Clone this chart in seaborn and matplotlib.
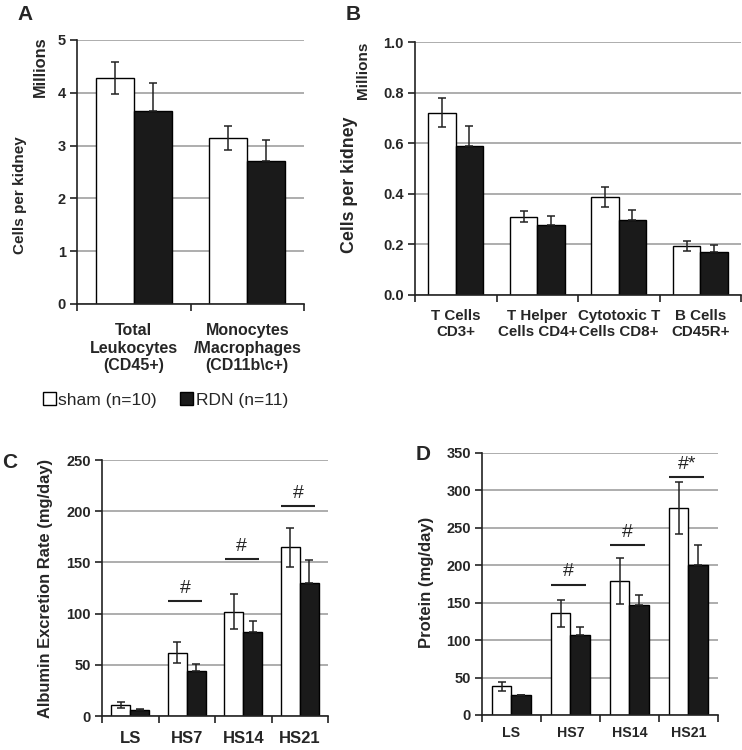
import numpy as np
import pandas as pd
import matplotlib
matplotlib.use('Agg')
import matplotlib.pyplot as plt
from matplotlib.patches import Patch
import seaborn as sns

# panel A
a_cats = ['Total\nLeukocytes\n(CD45+)', 'Monocytes\n/Macrophages\n(CD11b\\c+)']
a_sham = [4.28, 3.14]
a_sham_err = [0.30, 0.23]
a_rdn = [3.65, 2.70]
a_rdn_err = [0.53, 0.40]

# panel B
b_cats = ['T Cells\nCD3+', 'T Helper\nCells CD4+', 'Cytotoxic T\nCells CD8+', 'B Cells\nCD45R+']
b_sham = [0.72, 0.31, 0.387, 0.195]
b_sham_err = [0.057, 0.022, 0.04, 0.02]
b_rdn = [0.587, 0.275, 0.295, 0.17]
b_rdn_err = [0.08, 0.036, 0.042, 0.029]

# panel C
c_cats = ['LS', 'HS7', 'HS14', 'HS21']
c_sham = [11, 62, 102, 165]
c_sham_err = [3, 10, 17, 19]
c_rdn = [6, 44, 82, 130]
c_rdn_err = [1, 7, 11, 22]
c_sig_y = [112, 153, 205]
c_sig_txt = ['#', '#', '#']

# panel D
d_cats = ['LS', 'HS7', 'HS14', 'HS21']
d_sham = [38, 136, 179, 276]
d_sham_err = [6, 18, 31, 35]
d_rdn = [26, 107, 147, 200]
d_rdn_err = [1, 10, 13, 27]
d_sig_y = [174, 227, 318]
d_sig_txt = ['#', '#', '#*']

groups = ['sham', 'RDN']
pal = {'sham': 'white', 'RDN': '#1a1a1a'}

sns.set_style('white')
plt.rcParams['font.family'] = ['Liberation Sans', 'DejaVu Sans']
plt.rcParams['font.weight'] = 'bold'

fig = plt.figure(figsize=(7.42, 7.5), dpi=100)


def panel(rect, cats, sham, sham_err, rdn, rdn_err, ymax, ystep, fmt, xpad, xfs):
    ax = fig.add_axes(rect)
    df = pd.DataFrame({
        'cat': cats * 2,
        'grp': ['sham'] * len(cats) + ['RDN'] * len(cats),
        'val': list(sham) + list(rdn),
    })
    sns.barplot(data=df, x='cat', y='val', hue='grp', hue_order=groups,
                palette=pal, edgecolor='black', linewidth=1.0, width=0.67,
                errorbar=None, legend=False, ax=ax)
    # white bars: both directions visible; black bars: only the upper half shows
    for cont, errs, g in zip(ax.containers, [sham_err, rdn_err], groups):
        xs = [p.get_x() + p.get_width() / 2 for p in cont.patches]
        hs = [p.get_height() for p in cont.patches]
        if g == 'sham':
            yerr = errs
        else:
            yerr = [[0] * len(errs), errs]
        ax.errorbar(xs, hs, yerr=yerr, fmt='none', ecolor='#222222',
                    elinewidth=1.1, capsize=2.8, capthick=1.1, zorder=5)
    n = len(cats)
    ax.set_xlim(-0.5, n - 0.5)
    ax.set_ylim(0, ymax)
    ticks = np.arange(0, ymax + ystep / 2, ystep)
    ax.set_yticks(ticks)
    ax.set_yticklabels([fmt.format(v) for v in ticks], fontsize=10.5, fontweight='bold')
    ax.set_xticks(np.arange(n + 1) - 0.5, minor=True)
    ax.tick_params(axis='x', which='major', length=0, pad=xpad, labelsize=xfs)
    ax.tick_params(axis='x', which='minor', length=5, width=1.2, color='#222222',
                   direction='out', bottom=True)
    ax.tick_params(axis='y', length=5, width=1.2, color='#222222', direction='out',
                   left=True, pad=3)
    for lab in ax.get_xticklabels():
        lab.set_fontweight('bold')
    ax.yaxis.grid(True, color='#a0a0a0', lw=1.2)
    ax.xaxis.grid(False)
    ax.set_axisbelow(True)
    for s in ['top', 'right']:
        ax.spines[s].set_visible(False)
    for s in ['left', 'bottom']:
        ax.spines[s].set_color('#222222')
        ax.spines[s].set_linewidth(1.2)
    ax.set_xlabel('')
    ax.set_ylabel('')
    return ax


def sig(ax, ys, txts):
    for i, (y, t) in enumerate(zip(ys, txts)):
        c = i + 1
        ax.plot([c - 0.33, c + 0.27], [y, y], color='#222222', lw=1.5,
                solid_capstyle='butt', zorder=6)
        ax.annotate(t, (c - 0.03, y), xytext=(0, 3), textcoords='offset points',
                    ha='center', va='bottom', fontsize=14, fontweight='normal')


axA = panel([0.1038, 0.5947, 0.306, 0.352], a_cats, a_sham, a_sham_err,
            a_rdn, a_rdn_err, 5, 1, '{:.0f}', 14, 11.5)
axB = panel([0.5593, 0.6067, 0.4394, 0.3373], b_cats, b_sham, b_sham_err,
            b_rdn, b_rdn_err, 1.0, 0.2, '{:.1f}', 10, 10.9)
axC = panel([0.1375, 0.0453, 0.3046, 0.3413], c_cats, c_sham, c_sham_err,
            c_rdn, c_rdn_err, 250, 50, '{:.0f}', 11, 12)
axD = panel([0.6496, 0.0467, 0.318, 0.3497], d_cats, d_sham, d_sham_err,
            d_rdn, d_rdn_err, 350, 50, '{:.0f}', 8, 10.2)
sig(axC, c_sig_y, c_sig_txt)
sig(axD, d_sig_y, d_sig_txt)

# axis labels
fig.text(20 / 742, 1 - 195 / 750, 'Cells per kidney', rotation=90, ha='center',
         va='center', fontsize=11, fontweight='bold')
fig.text(40 / 742, 1 - 67 / 750, 'Millions', rotation=90, ha='center',
         va='center', fontsize=11.8, fontweight='bold')
fig.text(350 / 742, 1 - 185 / 750, 'Cells per kidney', rotation=90, ha='center',
         va='center', fontsize=12.8, fontweight='bold')
fig.text(363 / 742, 1 - 70 / 750, 'Millions', rotation=90, ha='center',
         va='center', fontsize=11, fontweight='bold')
fig.text(46 / 742, 1 - 588 / 750, 'Albumin Excretion Rate (mg/day)', rotation=90,
         ha='center', va='center', fontsize=11.9, fontweight='bold')
fig.text(427 / 742, 1 - 582 / 750, 'Protein (mg/day)', rotation=90,
         ha='center', va='center', fontsize=12, fontweight='bold')

# panel letters
for t, x, y in [('A', 25, 15), ('B', 353, 15), ('C', 10, 462), ('D', 423, 455)]:
    fig.text(x / 742, 1 - y / 750, t, ha='center', va='center', fontsize=15,
             fontweight='bold')

# legend
handles = [Patch(facecolor=pal[g], edgecolor='black', linewidth=1.0) for g in groups]
fig.legend(handles, ['sham (n=10)', 'RDN (n=11)'], loc='center left',
           bbox_to_anchor=(27 / 742, 1 - 400 / 750), ncol=2, frameon=False,
           prop={'size': 12.5, 'weight': 'normal'}, handlelength=0.75,
           handleheight=0.75, handletextpad=0.15, columnspacing=1.35)

fig.savefig('out.png', dpi=100)
